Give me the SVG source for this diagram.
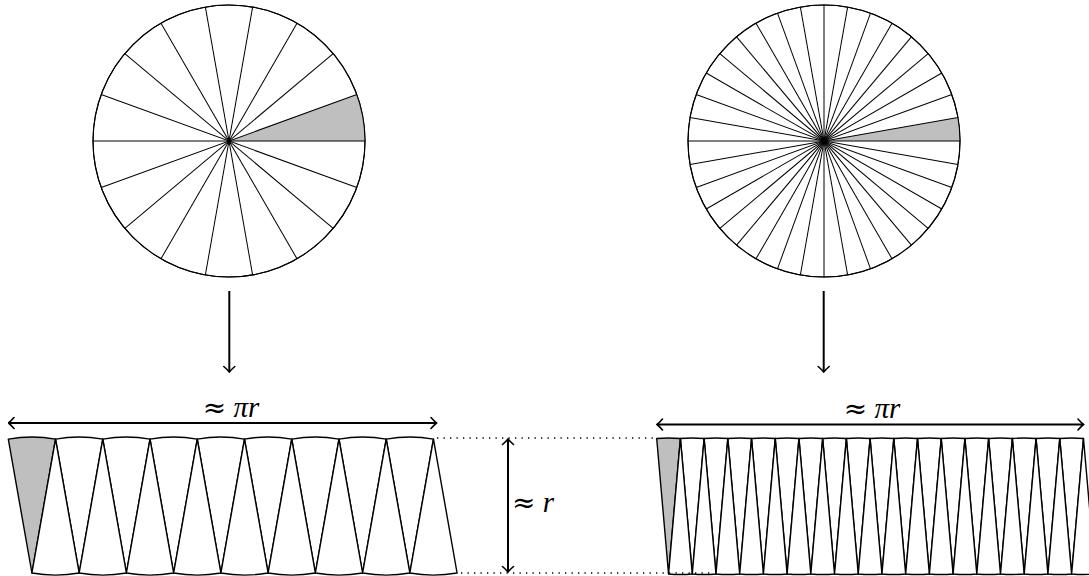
<svg xmlns="http://www.w3.org/2000/svg" width="1089" height="576" viewBox="0 0 1089 576">
<style>
  .bg{fill:#fff}
  .disc{fill:#fff;stroke:#000;stroke-width:1.1}
  .spoke line{stroke:#000;stroke-width:1}
  .shade{fill:#bfbfbf}
  .sec{fill:#fff;stroke:#000;stroke-width:1.4;stroke-linejoin:round}
  .sec.g{fill:#bfbfbf}
  .arr{stroke:#000;stroke-width:2;fill:none}
  .dot{stroke:#000;stroke-width:1.3;stroke-dasharray:1.3 5.2;fill:none}
  .lbl{font-family:"Liberation Serif","DejaVu Serif",serif;font-size:29px;fill:#000}
  .rel{font-family:"DejaVu Serif",serif;font-size:28px;font-style:normal}
  .it{font-style:italic}
</style>
<defs>
  <marker id="ah" viewBox="-8 -7 9 14" refX="0" refY="0" markerWidth="9" markerHeight="14" markerUnits="userSpaceOnUse" orient="auto-start-reverse">
    <path d="M-5.5,-5.5 Q-2,-1.5 0,0 Q-2,1.5 -5.5,5.5" fill="none" stroke="#000" stroke-width="1.6" stroke-linecap="round"/>
  </marker>
  <path id="s20d" d="M0,0 L-23.62,-133.93 A136,136 0 0,1 23.62,-133.93 Z"/>
  <path id="s20u" d="M0,0 L-23.62,133.93 A136,136 0 0,0 23.62,133.93 Z"/>
  <path id="s10d" d="M0,0 L-11.85,-135.48 A136,136 0 0,1 11.85,-135.48 Z"/>
  <path id="s10u" d="M0,0 L-11.85,135.48 A136,136 0 0,0 11.85,135.48 Z"/>
</defs>
<rect class="bg" width="1089" height="576"/>

<g id="circle-left" transform="translate(229,141)">
  <circle class="disc" r="136"/>
  <path class="shade" d="M0,0 L136,0 A136,136 0 0,0 127.80,-46.52 Z"/>
  <g class="spoke">
    <line x1="-136" y1="0" x2="136" y2="0"/>
    <line x1="-136" y1="0" x2="136" y2="0" transform="rotate(20)"/>
    <line x1="-136" y1="0" x2="136" y2="0" transform="rotate(40)"/>
    <line x1="-136" y1="0" x2="136" y2="0" transform="rotate(60)"/>
    <line x1="-136" y1="0" x2="136" y2="0" transform="rotate(80)"/>
    <line x1="-136" y1="0" x2="136" y2="0" transform="rotate(100)"/>
    <line x1="-136" y1="0" x2="136" y2="0" transform="rotate(120)"/>
    <line x1="-136" y1="0" x2="136" y2="0" transform="rotate(140)"/>
    <line x1="-136" y1="0" x2="136" y2="0" transform="rotate(160)"/>
  </g>
  <circle r="136" fill="none" stroke="#000" stroke-width="1.1"/>
</g>

<g id="circle-right" transform="translate(824,141)">
  <circle class="disc" r="136"/>
  <path class="shade" d="M0,0 L136,0 A136,136 0 0,0 133.93,-23.62 Z"/>
  <g class="spoke">
    <line x1="-136" y1="0" x2="136" y2="0"/>
    <line x1="-136" y1="0" x2="136" y2="0" transform="rotate(10)"/>
    <line x1="-136" y1="0" x2="136" y2="0" transform="rotate(20)"/>
    <line x1="-136" y1="0" x2="136" y2="0" transform="rotate(30)"/>
    <line x1="-136" y1="0" x2="136" y2="0" transform="rotate(40)"/>
    <line x1="-136" y1="0" x2="136" y2="0" transform="rotate(50)"/>
    <line x1="-136" y1="0" x2="136" y2="0" transform="rotate(60)"/>
    <line x1="-136" y1="0" x2="136" y2="0" transform="rotate(70)"/>
    <line x1="-136" y1="0" x2="136" y2="0" transform="rotate(80)"/>
    <line x1="-136" y1="0" x2="136" y2="0" transform="rotate(90)"/>
    <line x1="-136" y1="0" x2="136" y2="0" transform="rotate(100)"/>
    <line x1="-136" y1="0" x2="136" y2="0" transform="rotate(110)"/>
    <line x1="-136" y1="0" x2="136" y2="0" transform="rotate(120)"/>
    <line x1="-136" y1="0" x2="136" y2="0" transform="rotate(130)"/>
    <line x1="-136" y1="0" x2="136" y2="0" transform="rotate(140)"/>
    <line x1="-136" y1="0" x2="136" y2="0" transform="rotate(150)"/>
    <line x1="-136" y1="0" x2="136" y2="0" transform="rotate(160)"/>
    <line x1="-136" y1="0" x2="136" y2="0" transform="rotate(170)"/>
  </g>
  <circle r="136" fill="none" stroke="#000" stroke-width="1.1"/>
</g>

<g id="strip-left">
  <use href="#s20d" class="sec g" x="31.92" y="573"/>
  <use href="#s20d" class="sec" x="79.16" y="573"/>
  <use href="#s20d" class="sec" x="126.40" y="573"/>
  <use href="#s20d" class="sec" x="173.64" y="573"/>
  <use href="#s20d" class="sec" x="220.88" y="573"/>
  <use href="#s20d" class="sec" x="268.12" y="573"/>
  <use href="#s20d" class="sec" x="315.36" y="573"/>
  <use href="#s20d" class="sec" x="362.60" y="573"/>
  <use href="#s20d" class="sec" x="409.84" y="573"/>
  <use href="#s20u" class="sec" x="55.54" y="439.07"/>
  <use href="#s20u" class="sec" x="102.78" y="439.07"/>
  <use href="#s20u" class="sec" x="150.02" y="439.07"/>
  <use href="#s20u" class="sec" x="197.26" y="439.07"/>
  <use href="#s20u" class="sec" x="244.50" y="439.07"/>
  <use href="#s20u" class="sec" x="291.74" y="439.07"/>
  <use href="#s20u" class="sec" x="338.98" y="439.07"/>
  <use href="#s20u" class="sec" x="386.22" y="439.07"/>
  <use href="#s20u" class="sec" x="433.46" y="439.07"/>
</g>

<g id="strip-right">
  <use href="#s10d" class="sec g" x="668.55" y="574"/>
  <use href="#s10d" class="sec" x="692.26" y="574"/>
  <use href="#s10d" class="sec" x="715.97" y="574"/>
  <use href="#s10d" class="sec" x="739.68" y="574"/>
  <use href="#s10d" class="sec" x="763.39" y="574"/>
  <use href="#s10d" class="sec" x="787.10" y="574"/>
  <use href="#s10d" class="sec" x="810.81" y="574"/>
  <use href="#s10d" class="sec" x="834.52" y="574"/>
  <use href="#s10d" class="sec" x="858.23" y="574"/>
  <use href="#s10d" class="sec" x="881.94" y="574"/>
  <use href="#s10d" class="sec" x="905.65" y="574"/>
  <use href="#s10d" class="sec" x="929.36" y="574"/>
  <use href="#s10d" class="sec" x="953.07" y="574"/>
  <use href="#s10d" class="sec" x="976.78" y="574"/>
  <use href="#s10d" class="sec" x="1000.49" y="574"/>
  <use href="#s10d" class="sec" x="1024.20" y="574"/>
  <use href="#s10d" class="sec" x="1047.91" y="574"/>
  <use href="#s10d" class="sec" x="1071.62" y="574"/>
  <use href="#s10u" class="sec" x="680.41" y="438.52"/>
  <use href="#s10u" class="sec" x="704.12" y="438.52"/>
  <use href="#s10u" class="sec" x="727.83" y="438.52"/>
  <use href="#s10u" class="sec" x="751.54" y="438.52"/>
  <use href="#s10u" class="sec" x="775.25" y="438.52"/>
  <use href="#s10u" class="sec" x="798.96" y="438.52"/>
  <use href="#s10u" class="sec" x="822.67" y="438.52"/>
  <use href="#s10u" class="sec" x="846.38" y="438.52"/>
  <use href="#s10u" class="sec" x="870.09" y="438.52"/>
  <use href="#s10u" class="sec" x="893.80" y="438.52"/>
  <use href="#s10u" class="sec" x="917.51" y="438.52"/>
  <use href="#s10u" class="sec" x="941.22" y="438.52"/>
  <use href="#s10u" class="sec" x="964.93" y="438.52"/>
  <use href="#s10u" class="sec" x="988.64" y="438.52"/>
  <use href="#s10u" class="sec" x="1012.35" y="438.52"/>
  <use href="#s10u" class="sec" x="1036.06" y="438.52"/>
  <use href="#s10u" class="sec" x="1059.77" y="438.52"/>
  <use href="#s10u" class="sec" x="1083.48" y="438.52"/>
</g>

<g id="connectors">
  <line class="arr" x1="229.3" y1="291" x2="229.3" y2="372" marker-end="url(#ah)"/>
  <line class="arr" x1="823.7" y1="291" x2="823.7" y2="372" marker-end="url(#ah)"/>
  <line class="arr" x1="8.5" y1="423" x2="436.5" y2="423" marker-start="url(#ah)" marker-end="url(#ah)"/>
  <line class="arr" x1="657" y1="424.5" x2="1083.5" y2="424.5" marker-start="url(#ah)" marker-end="url(#ah)"/>
  <line class="arr" x1="508" y1="439" x2="508" y2="572" marker-start="url(#ah)" marker-end="url(#ah)"/>
  <line class="dot" x1="437" y1="438" x2="658" y2="438"/>
  <line class="dot" x1="461" y1="573" x2="714" y2="573"/>
</g>

<g id="labels">
  <text class="lbl" x="231" y="417" text-anchor="middle"><tspan class="rel">≈</tspan> <tspan class="it">πr</tspan></text>
  <text class="lbl" x="872" y="418" text-anchor="middle"><tspan class="rel">≈</tspan> <tspan class="it">πr</tspan></text>
  <text class="lbl" x="512" y="512"><tspan class="rel">≈</tspan> <tspan class="it">r</tspan></text>
</g>
</svg>
